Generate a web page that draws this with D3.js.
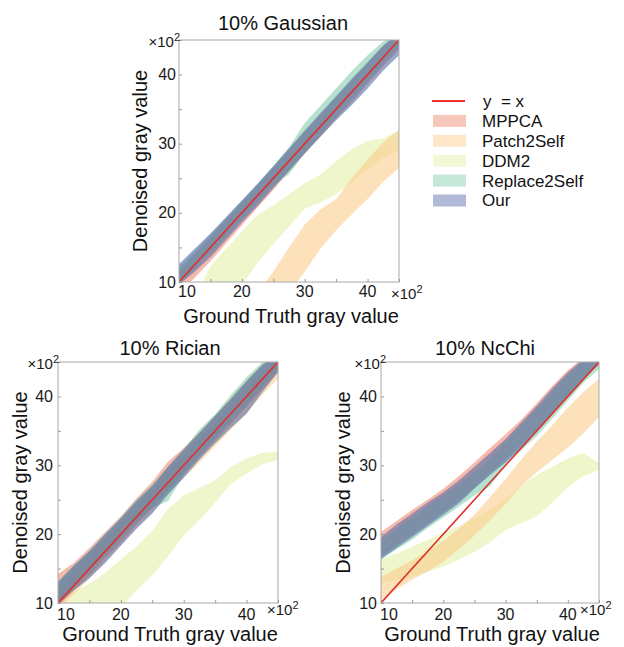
<!DOCTYPE html>
<html><head><meta charset="utf-8">
<script src="https://cdn.jsdelivr.net/npm/d3@7"></script>
<style>
html,body{margin:0;padding:0;background:#fff;}
svg{display:block;font-family:"Liberation Sans",Arial,sans-serif;}
</style></head>
<body>
<svg id="chart" width="624" height="647"></svg>
<script>
// ---------- data (values in units of x10^2 gray value) ----------
const xGrid = [10, 12.5, 15, 17.5, 20, 22.5, 25, 27.5, 30, 32.5, 35, 37.5, 40, 42.5, 45];
const tickValues = [10, 15, 20, 25, 30, 35, 40, 45];
const tickLabels = [10, 20, 30, 40];
const methods = ["MPPCA", "Patch2Self", "DDM2", "Replace2Self", "Our"];
const panelTitles = ["10% Gaussian", "10% Rician", "10% NcChi"];

// 10% Gaussian
const gaussMPPCALo = [8.5, 10.6, 13, 15.6, 18.2, 20.8, 23.3, 26, 28.6, 31, 33.6, 36, 38.6, 41.2, 43.6];
const gaussMPPCAHi = [11.6, 14, 16.5, 19, 21.5, 24, 26.6, 29.2, 31.7, 34.2, 36.7, 39.2, 41.6, 44.2, 46];
const gaussPatchLo = [-5, -3, -1, 1, 3, 5, 7, 8.5, 11.5, 14.8, 17.5, 19.8, 22, 24.5, 26.5];
const gaussPatchHi = [0, 2, 4, 6, 7.5, 8.5, 11.5, 15, 18.3, 20.5, 22, 25, 27.7, 30.2, 32];
const gaussDDM2Lo = [0, 2, 4, 6, 9.5, 12.8, 15.5, 18, 20.6, 21.5, 22.7, 24.5, 26.3, 28, 29];
const gaussDDM2Hi = [3, 7.5, 12.3, 14.8, 17.3, 19.7, 21.1, 22.7, 24.3, 25.5, 27.5, 29.2, 30.4, 30.8, 32];
const gaussR2SLo = [9.8, 11.8, 14.2, 16.6, 19, 21.5, 24, 25.6, 28.6, 31.4, 33.8, 36.4, 39, 41.5, 44];
const gaussR2SHi = [12.2, 14.5, 16.9, 19.3, 21.8, 24.2, 26.8, 29.5, 33, 35.5, 38, 40.5, 42.8, 44.8, 46];
const gaussOurLo = [9.6, 11.5, 13.6, 16.1, 18.6, 21, 23.6, 26.1, 28.6, 31, 33.4, 35.6, 38, 40.6, 42.8];
const gaussOurHi = [12.6, 14.8, 17, 19.4, 21.8, 24.2, 26.7, 29.3, 31.9, 34.4, 36.9, 39.4, 41.8, 44.2, 46];

// 10% Rician
const ricMPPCALo = [9.5, 11.8, 14, 16.5, 18.8, 21.4, 23.8, 26.3, 28.8, 31.2, 33.6, 36, 38.5, 41, 43.5];
const ricMPPCAHi = [14.2, 15.8, 18, 20.3, 22.6, 25.2, 27.6, 30.5, 32.5, 34.8, 37.2, 39.8, 42.3, 44.6, 46];
const ricPatchLo = [9, 11.2, 13.6, 16, 18.5, 21, 23.2, 25.8, 28.2, 30.4, 32.8, 35.2, 37.6, 40.2, 42.6];
const ricPatchHi = [12.2, 14.6, 17, 19.4, 21.8, 24.2, 26.6, 29.2, 31.5, 34, 36.3, 38.8, 41.2, 43.6, 45.5];
const ricDDM2Lo = [0, 2, 4, 6.5, 9.3, 11.8, 14, 16.8, 19.8, 22, 24.6, 27.3, 28.8, 30.1, 30.8];
const ricDDM2Hi = [10.5, 11.6, 12.8, 14.4, 16.3, 18.2, 20.5, 23.7, 25.6, 26.7, 27.8, 29.8, 31, 31.8, 32];
const ricR2SLo = [10.2, 12.4, 14.6, 17, 19.4, 21.8, 23.8, 24.8, 28.6, 31.2, 33.8, 36.4, 38.8, 41.4, 44];
const ricR2SHi = [13.2, 15.4, 17.6, 20, 22.4, 25, 27.2, 29.8, 32.3, 35.2, 37.4, 40.2, 42.8, 45, 46];
const ricOurLo = [9.8, 11.8, 13.6, 15.8, 18.3, 20.8, 23, 25.8, 28.2, 30.8, 33.2, 35.4, 37.5, 40.6, 43.5];
const ricOurHi = [13, 15.4, 17.5, 20, 22.3, 24.8, 27, 29.8, 32.3, 34.7, 37.2, 39.6, 42.2, 44.6, 46];

// 10% NcChi
const chiMPPCALo = [16.8, 18.3, 19.9, 21.5, 23.2, 24.8, 26.8, 28.8, 30.8, 33, 35.2, 37.6, 40.2, 42.6, 44.8];
const chiMPPCAHi = [20.3, 21.9, 23.5, 25, 26.6, 28.4, 30.4, 32.5, 34.5, 36.6, 39, 41.5, 43.8, 45.6, 46.5];
const chiPatchLo = [10.4, 12, 13.4, 14.6, 16, 17.8, 19.8, 22, 24.4, 27, 29, 30.8, 32.6, 34.6, 37];
const chiPatchHi = [13.8, 15, 16.2, 17.5, 19, 20.8, 22.8, 25.4, 28, 30.8, 33.4, 35.8, 38.4, 40.6, 42.6];
const chiDDM2Lo = [12.8, 13.3, 13.8, 14.5, 15.3, 16.3, 17.4, 18.8, 20.6, 21.6, 22.6, 24.6, 26.8, 28.4, 29.3];
const chiDDM2Hi = [16.3, 17.2, 18.2, 19.2, 20.2, 21.2, 22.3, 23.6, 25.2, 27, 28.6, 29.8, 31, 31.8, 30.3];
const chiR2SLo = [16.3, 17.8, 19.2, 20.9, 22.4, 24, 25.6, 27, 30, 32.2, 34.2, 36.8, 39.4, 42, 44];
const chiR2SHi = [19, 20.8, 22.4, 24, 25.6, 27.2, 29, 31, 33.4, 35.8, 38.2, 40.8, 43.2, 45.2, 46.5];
const chiOurLo = [16.4, 18, 19.6, 21.2, 22.8, 24.5, 26.6, 28.6, 30.4, 32.6, 34.8, 37.4, 40, 42.5, 44.6];
const chiOurHi = [19.6, 21.4, 23, 24.6, 26.1, 27.8, 29.8, 31.8, 33.8, 36.2, 38.6, 41.2, 43.5, 45.4, 46.5];

// ---------- styles ----------
const fillColors = {
  "MPPCA": "rgb(238,128,100)",
  "Patch2Self": "rgb(250,205,140)",
  "DDM2": "rgb(228,240,170)",
  "Replace2Self": "rgb(110,195,155)",
  "Our": "rgb(90,110,170)"
};
const fillOpacity = {"MPPCA":0.55, "Patch2Self":0.6, "DDM2":0.6, "Replace2Self":0.5, "Our":0.6};
const drawOrder = ["DDM2", "Patch2Self", "MPPCA", "Replace2Self", "Our"];

const panelBands = [
  {MPPCA:[gaussMPPCALo,gaussMPPCAHi], Patch2Self:[gaussPatchLo,gaussPatchHi], DDM2:[gaussDDM2Lo,gaussDDM2Hi], Replace2Self:[gaussR2SLo,gaussR2SHi], Our:[gaussOurLo,gaussOurHi]},
  {MPPCA:[ricMPPCALo,ricMPPCAHi], Patch2Self:[ricPatchLo,ricPatchHi], DDM2:[ricDDM2Lo,ricDDM2Hi], Replace2Self:[ricR2SLo,ricR2SHi], Our:[ricOurLo,ricOurHi]},
  {MPPCA:[chiMPPCALo,chiMPPCAHi], Patch2Self:[chiPatchLo,chiPatchHi], DDM2:[chiDDM2Lo,chiDDM2Hi], Replace2Self:[chiR2SLo,chiR2SHi], Our:[chiOurLo,chiOurHi]}
];

// panel layout (pixels)
const layout = [
  {x0:179, x1:399, y0:282, y1:40,  titleX:283, titleY:30,  yLabX:147, xLabY:323, yTickGap:3, xTickY:297, topExpX:180, topExpY:47, xExpX:391, xExpY:299},
  {x0:58,  x1:278, y0:603, y1:362, titleX:170, titleY:355, yLabX:27,  xLabY:641, yTickGap:5, xTickY:620, topExpX:59,  topExpY:369, xExpX:267, xExpY:615},
  {x0:381, x1:599, y0:603, y1:362, titleX:485, titleY:355, yLabX:350, xLabY:641, yTickGap:4, xTickY:620, topExpX:386, topExpY:369, xExpX:580, xExpY:615}
];

const svg = d3.select("#chart");
const domain = [10, 45];

layout.forEach((L, pi) => {
  const x = d3.scaleLinear().domain(domain).range([L.x0, L.x1]);
  const y = d3.scaleLinear().domain(domain).range([L.y0, L.y1]);
  const g = svg.append("g");
  const clipId = "clip" + pi;
  g.append("clipPath").attr("id", clipId).append("rect")
    .attr("x", L.x0).attr("y", L.y1).attr("width", L.x1 - L.x0).attr("height", L.y0 - L.y1);

  const plot = g.append("g").attr("clip-path", `url(#${clipId})`);
  const area = d3.area().x(d => x(d.x)).y0(d => y(d.lo)).y1(d => y(d.hi)).curve(d3.curveLinear);
  drawOrder.forEach(m => {
    const [lo, hi] = panelBands[pi][m];
    const data = xGrid.map((xv, i) => ({x: xv, lo: lo[i], hi: hi[i]}));
    plot.append("path").datum(data).attr("d", area)
      .attr("fill", fillColors[m]).attr("fill-opacity", fillOpacity[m]);
  });
  // y = x line
  plot.append("line")
    .attr("x1", x(domain[0])).attr("y1", y(domain[0]))
    .attr("x2", x(domain[1])).attr("y2", y(domain[1]))
    .attr("stroke", "#e0302c").attr("stroke-width", 1.6);

  // frame
  g.append("rect").attr("x", L.x0).attr("y", L.y1)
    .attr("width", L.x1 - L.x0).attr("height", L.y0 - L.y1)
    .attr("fill", "none").attr("stroke", "#a8a8a8").attr("stroke-width", 1);

  // minor ticks (inward)
  const xAx = d3.axisBottom(x).tickValues(tickValues).tickSize(-3).tickFormat("");
  const yAx = d3.axisLeft(y).tickValues(tickValues).tickSize(-3).tickFormat("");
  const gx = g.append("g").attr("transform", `translate(0,${L.y0})`).call(xAx);
  const gy = g.append("g").attr("transform", `translate(${L.x0},0)`).call(yAx);
  [gx, gy].forEach(a => { a.select(".domain").remove(); a.selectAll("line").attr("stroke", "#999"); });

  // tick labels
  g.selectAll(".xt").data(tickLabels).enter().append("text")
    .attr("x", (d, i) => x(d) + (i === 0 ? 8 : 0)).attr("y", L.xTickY)
    .attr("text-anchor", "middle").attr("font-size", 16).attr("fill", "#1a1a1a")
    .text(d => d);
  g.selectAll(".yt").data(tickLabels).enter().append("text")
    .attr("x", L.x0 - L.yTickGap).attr("y", d => y(d)).attr("dy", "0.35em")
    .attr("text-anchor", "end").attr("font-size", 16).attr("fill", "#1a1a1a")
    .text(d => d);

  // exponent labels
  const exp = (tx, ty, anchor) => {
    const t = g.append("text").attr("x", tx).attr("y", ty).attr("text-anchor", anchor)
      .attr("font-size", 15).attr("fill", "#1a1a1a");
    t.append("tspan").text("×10");
    t.append("tspan").attr("dy", -6).attr("font-size", 11).text("2");
  };
  exp(L.topExpX, L.topExpY, "end");
  exp(L.xExpX, L.xExpY, "start");

  // titles & axis labels
  g.append("text").attr("x", L.titleX).attr("y", L.titleY).attr("text-anchor", "middle")
    .attr("font-size", 20).attr("fill", "#111").text(panelTitles[pi]);
  g.append("text").attr("x", (L.x0 + L.x1) / 2 + 2).attr("y", L.xLabY).attr("text-anchor", "middle")
    .attr("font-size", 20).attr("fill", "#111").text("Ground Truth gray value");
  g.append("text")
    .attr("transform", `translate(${L.yLabX},${(L.y0 + L.y1) / 2}) rotate(-90)`)
    .attr("text-anchor", "middle").attr("font-size", 20).attr("fill", "#111")
    .text("Denoised gray value");
});

// ---------- legend ----------
const leg = svg.append("g");
const legY0 = 101, legStep = 19.9;
leg.append("line").attr("x1", 432).attr("x2", 465).attr("y1", legY0).attr("y2", legY0)
  .attr("stroke", "#f03030").attr("stroke-width", 2);
leg.append("text").attr("x", 483).attr("y", legY0).attr("dy", "0.35em")
  .attr("font-size", 17).attr("fill", "#111").attr("xml:space", "preserve").text("y  = x");
methods.forEach((m, i) => {
  const cy = legY0 + legStep * (i + 1);
  leg.append("rect").attr("x", 433).attr("y", cy - 6).attr("width", 33).attr("height", 12)
    .attr("fill", fillColors[m]).attr("fill-opacity", fillOpacity[m] * 0.8);
  leg.append("text").attr("x", 482).attr("y", cy).attr("dy", "0.35em")
    .attr("font-size", 17).attr("fill", "#111").text(m);
});
</script>
</body></html>
